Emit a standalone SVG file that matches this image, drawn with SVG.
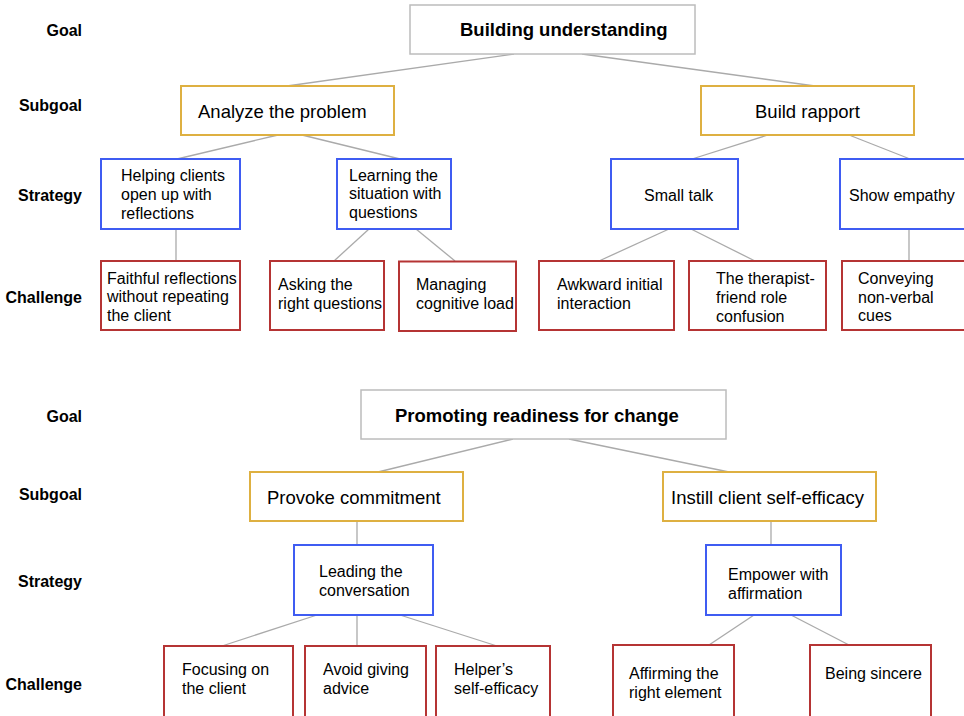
<svg xmlns="http://www.w3.org/2000/svg" width="964" height="716" viewBox="0 0 964 716">
<style>
.bg{fill:#ffffff}
.box{fill:#ffffff;stroke-width:2}
.goal{stroke:#bcbcbc;stroke-width:1.5}
.sub{stroke:#deb041}
.str{stroke:#3f5cf2}
.ch{stroke:#b53434}
.lab{font-family:"Liberation Sans",Arial,sans-serif;font-weight:bold;font-size:16px;fill:#000;text-anchor:end}
.gt{font-family:"Liberation Sans",Arial,sans-serif;font-weight:bold;font-size:18.5px;fill:#000}
.st{font-family:"Liberation Sans",Arial,sans-serif;font-size:18.5px;fill:#000}
.t{font-family:"Liberation Sans",Arial,sans-serif;font-size:16px;fill:#000}
.conn line{stroke:#aaaaaa;stroke-width:1.3}
</style>
<rect class="bg" x="0" y="0" width="964" height="716"/>

<g id="labels">
<text class="lab" x="82" y="36">Goal</text>
<text class="lab" x="82" y="111">Subgoal</text>
<text class="lab" x="82" y="201">Strategy</text>
<text class="lab" x="82" y="303">Challenge</text>
<text class="lab" x="82" y="422">Goal</text>
<text class="lab" x="82" y="500">Subgoal</text>
<text class="lab" x="82" y="587">Strategy</text>
<text class="lab" x="82" y="690">Challenge</text>
</g>

<g id="connectors" class="conn">
<line x1="514" y1="54" x2="287" y2="86"/>
<line x1="582" y1="54" x2="815" y2="86"/>
<line x1="278" y1="135" x2="177" y2="159"/>
<line x1="302" y1="135" x2="400" y2="159"/>
<line x1="176" y1="229" x2="176" y2="261"/>
<line x1="369" y1="229" x2="334" y2="261"/>
<line x1="416" y1="229" x2="455" y2="261"/>
<line x1="768" y1="135" x2="692" y2="159"/>
<line x1="849" y1="135" x2="910" y2="159"/>
<line x1="669" y1="229" x2="599" y2="261"/>
<line x1="691" y1="229" x2="755" y2="261"/>
<line x1="909" y1="229" x2="909" y2="261"/>
<line x1="513" y1="439" x2="378" y2="472"/>
<line x1="569" y1="439" x2="729" y2="472"/>
<line x1="357" y1="521" x2="357" y2="545"/>
<line x1="317" y1="615" x2="222" y2="646"/>
<line x1="357" y1="615" x2="357" y2="646"/>
<line x1="400" y1="615" x2="497" y2="646"/>
<line x1="771" y1="521" x2="771" y2="545"/>
<line x1="754" y1="615" x2="709" y2="645"/>
<line x1="791" y1="615" x2="849" y2="645"/>
</g>

<g id="goal1">
<rect class="box goal" x="410" y="5" width="285" height="49"/>
<text class="gt" x="460" y="36">Building understanding</text>
</g>
<g id="sub-analyze">
<rect class="box sub" x="181" y="86" width="213" height="49"/>
<text class="st" x="198" y="118">Analyze the problem</text>
</g>
<g id="sub-rapport">
<rect class="box sub" x="701" y="86" width="213" height="49"/>
<text class="st" x="755" y="118">Build rapport</text>
</g>
<g id="str-helping">
<rect class="box str" x="101" y="159" width="139" height="70"/>
<text class="t" x="121" y="181">Helping clients</text>
<text class="t" x="121" y="200">open up with</text>
<text class="t" x="121" y="218.5">reflections</text>
</g>
<g id="str-learning">
<rect class="box str" x="337" y="159" width="114" height="70"/>
<text class="t" x="349" y="180.5">Learning the</text>
<text class="t" x="349" y="199">situation with</text>
<text class="t" x="349" y="218">questions</text>
</g>
<g id="str-smalltalk">
<rect class="box str" x="611" y="159" width="127" height="70"/>
<text class="t" x="644" y="201">Small talk</text>
</g>
<g id="str-empathy">
<rect class="box str" x="840" y="159" width="140" height="70"/>
<text class="t" x="849" y="201">Show empathy</text>
</g>
<g id="ch-faithful">
<rect class="box ch" x="101" y="261" width="139" height="69"/>
<text class="t" x="107" y="283.5">Faithful reflections</text>
<text class="t" x="107" y="302">without repeating</text>
<text class="t" x="107" y="320.5">the client</text>
</g>
<g id="ch-asking">
<rect class="box ch" x="270" y="261" width="114" height="69"/>
<text class="t" x="278" y="290">Asking the</text>
<text class="t" x="278" y="308.5">right questions</text>
</g>
<g id="ch-managing">
<rect class="box ch" x="399" y="261.5" width="117" height="69.5"/>
<text class="t" x="416" y="290">Managing</text>
<text class="t" x="416" y="308.5">cognitive load</text>
</g>
<g id="ch-awkward">
<rect class="box ch" x="539" y="261" width="135" height="69"/>
<text class="t" x="557" y="290">Awkward initial</text>
<text class="t" x="557" y="308.5">interaction</text>
</g>
<g id="ch-therapist">
<rect class="box ch" x="689" y="261" width="137" height="69"/>
<text class="t" x="716" y="284">The therapist-</text>
<text class="t" x="716" y="302.5">friend role</text>
<text class="t" x="716" y="321.5">confusion</text>
</g>
<g id="ch-conveying">
<rect class="box ch" x="842" y="261" width="140" height="69"/>
<text class="t" x="858" y="284">Conveying</text>
<text class="t" x="858" y="302.5">non-verbal</text>
<text class="t" x="858" y="321">cues</text>
</g>

<g id="goal2">
<rect class="box goal" x="361" y="390" width="365" height="49"/>
<text class="gt" x="395" y="421.5">Promoting readiness for change</text>
</g>
<g id="sub-provoke">
<rect class="box sub" x="250" y="472" width="213" height="49"/>
<text class="st" x="267" y="504">Provoke commitment</text>
</g>
<g id="sub-instill">
<rect class="box sub" x="663" y="472" width="213" height="49"/>
<text class="st" x="671" y="504">Instill client self-efficacy</text>
</g>
<g id="str-leading">
<rect class="box str" x="294" y="545" width="139" height="70"/>
<text class="t" x="319" y="577">Leading the</text>
<text class="t" x="319" y="595.5">conversation</text>
</g>
<g id="str-empower">
<rect class="box str" x="706" y="545" width="135" height="70"/>
<text class="t" x="728" y="579.5">Empower with</text>
<text class="t" x="728" y="598.5">affirmation</text>
</g>
<g id="ch-focusing">
<rect class="box ch" x="164" y="646" width="129" height="75"/>
<text class="t" x="182" y="675">Focusing on</text>
<text class="t" x="182" y="693.5">the client</text>
</g>
<g id="ch-avoid">
<rect class="box ch" x="305" y="646" width="121" height="75"/>
<text class="t" x="323" y="675">Avoid giving</text>
<text class="t" x="323" y="693.5">advice</text>
</g>
<g id="ch-helper">
<rect class="box ch" x="436" y="646" width="114" height="75"/>
<text class="t" x="454" y="675">Helper’s</text>
<text class="t" x="454" y="693.5">self-efficacy</text>
</g>
<g id="ch-affirming">
<rect class="box ch" x="613" y="645" width="121" height="76"/>
<text class="t" x="629" y="678.5">Affirming the</text>
<text class="t" x="629" y="697.5">right element</text>
</g>
<g id="ch-sincere">
<rect class="box ch" x="810" y="645" width="121" height="76"/>
<text class="t" x="825" y="678.5">Being sincere</text>
</g>
</svg>
